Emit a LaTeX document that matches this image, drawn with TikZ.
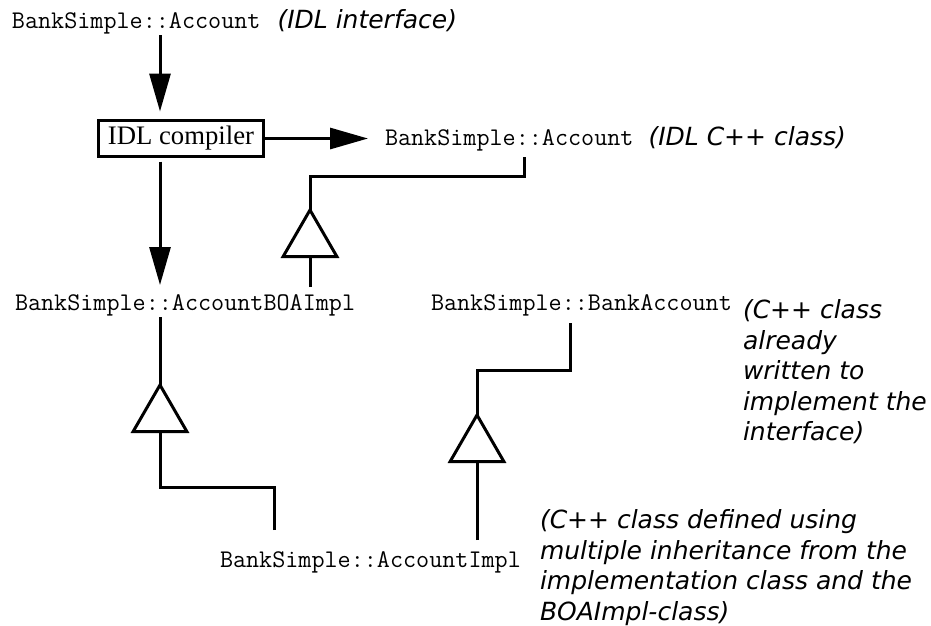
\documentclass[tikz,border=0pt]{standalone}
\usepackage{fontspec}
\setmainfont{Liberation Serif}
\newfontfamily\notefont{DejaVu Sans}
\usetikzlibrary{arrows.meta, positioning, shapes.geometric}

\begin{document}
\begin{tikzpicture}[x=1pt, y=-1pt, line width=3pt]
\tikzstyle{classname} = [font=\ttfamily\fontsize{25.4}{28}\selectfont, inner sep=0pt, outer sep=0pt, text height=14pt, text depth=4pt, anchor=base west]
\tikzstyle{note} = [font=\notefont\itshape\fontsize{25}{30.5}\selectfont, inner sep=0pt, outer sep=0pt]
\tikzstyle{compbox} = [rectangle, draw, minimum width=165pt, minimum height=36pt, inner sep=0pt, outer sep=0pt, font=\fontsize{26.7}{30}\selectfont]
\tikzstyle{inherit} = [regular polygon, regular polygon sides=3, draw, fill=white, minimum size=62pt, inner sep=0pt, outer sep=0pt]
\tikzstyle{arrow} = [-{Triangle[length=38pt, width=21pt]}]

\useasboundingbox (0,0) rectangle (931,625);
\coordinate (spine) at (160,0);

\node[classname] (acc) at (12,28) {BankSimple::Account};
\node[note, base right=17pt of acc] (accnote) {(IDL interface)};
\node[compbox] (comp) at (181,138.5) {IDL compiler};
\node[classname] (idlcxx) at (385,145) {BankSimple::Account};
\node[note, base right=15pt of idlcxx] (idlnote) {(IDL C++ class)};
\node[classname] (boaimpl) at (15,310) {BankSimple::AccountBOAImpl};
\node[classname] (bankacc) at (431,310) {BankSimple::BankAccount};
\node[note, align=left, anchor=north west] (banknote) at (743,299.5) {(C++ class\\already\\written to\\implement the\\interface)};
\node[classname] (impl) at (220,567) {BankSimple::AccountImpl};
\node[note, align=left, anchor=north west] (implnote) at (540,509.5) {(C++ class defined using\\multiple inheritance from the\\implementation class and the\\BOAImpl-class)};

% compiler in and out
\draw[arrow, shorten <=3pt, shorten >=9pt] (acc.south -| spine) -- (comp.north -| spine);
\draw[arrow, shorten >=17pt] (comp.east) -- (comp.east -| idlcxx.west);
\draw[arrow, shorten <=5pt, shorten >=11pt] (comp.south -| spine) -- (boaimpl.north -| spine);

% inheritance
\draw[shorten <=9pt] (boaimpl.north -| 310,0) -- (310,255);
\draw[shorten <=8pt] ([xshift=15pt]idlcxx.south) -- ++(0,27) -| (310,210);
\draw[shorten <=3pt] (boaimpl.south -| spine) -- (160,385);
\draw[shorten <=23pt] ([xshift=-96pt]impl.north) -- ++(0,-66) -| (160,430);
\draw[shorten <=9pt] ([xshift=-11pt]bankacc.south) -- ++(0,56) -| (477,415);
\draw[shorten <=13pt] (impl.north -| 477,0) -- (477,458);

\node[inherit] (tri1) at (310,241) {};
\node[inherit] (tri2) at (160,416) {};
\node[inherit] (tri3) at (477,446) {};

\end{tikzpicture}
\end{document}
